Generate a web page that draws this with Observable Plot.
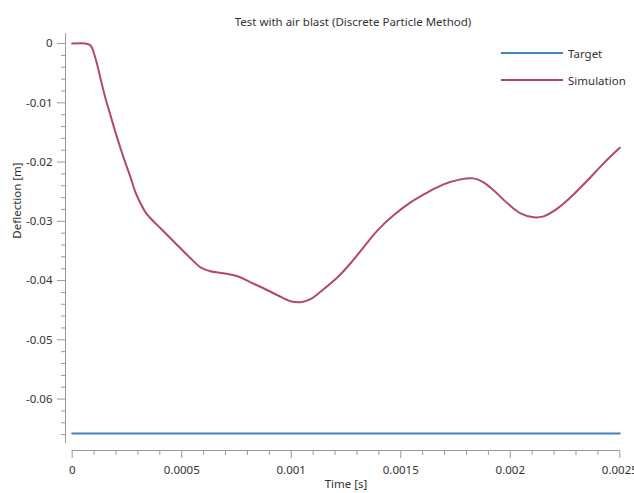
<!DOCTYPE html>
<html>
<head>
<meta charset="utf-8">
<script src="https://cdn.jsdelivr.net/npm/d3@7"></script>
<script src="https://cdn.jsdelivr.net/npm/@observablehq/plot@0.6"></script>
<style>
  html, body { margin: 0; padding: 0; background: #fff; }
  #wrap { position: relative; width: 634px; height: 493px; font-family: "Noto Sans", "Open Sans", sans-serif; color: #333; }
  #legend { position: absolute; left: 501px; top: 40px; font-size: 11.5px; }
  .item { display: flex; align-items: center; height: 26.7px; }
  .sw { width: 62px; height: 0; border-top: 2px solid; margin-right: 5px; }
</style>
</head>
<body>
<div id="wrap">
  <div id="legend"></div>
</div>
<script>
const title = "Test with air blast (Discrete Particle Method)";
const xLabel = "Time [s]";
const yLabel = "Deflection [m]";
const seriesNames = ["Target", "Simulation"];
const seriesColors = ["#4682be", "#b4476d"];

// Simulation: time [s]
const simTime = [0, 0.0000607, 0.0000836, 0.0001064, 0.0001292, 0.0001521, 0.0001749, 0.0001977, 0.0002205,
  0.0002434, 0.0002662, 0.000289, 0.0003119, 0.0003347, 0.0003575, 0.0004032, 0.0004489, 0.0004945,
  0.0005402, 0.0005858, 0.0006315, 0.0006909, 0.0007548, 0.0008142, 0.0008735, 0.0009374, 0.0009968,
  0.0010425, 0.0010881, 0.0011475, 0.0012114, 0.0012708, 0.0013484, 0.0013941, 0.0014671, 0.0015447,
  0.0016224, 0.0016954, 0.0017731, 0.0018324, 0.0018781, 0.0019237, 0.0019877, 0.002047, 0.0021064,
  0.0021521, 0.002216, 0.0022753, 0.002353, 0.002426, 0.0025];
// Simulation: deflection [m]
const simDefl = [0, 0, -0.00032, -0.00251, -0.00589, -0.00926, -0.01212, -0.01499, -0.01767,
  -0.0202, -0.02258, -0.02511, -0.02696, -0.02848, -0.02949, -0.03118, -0.03287, -0.03455,
  -0.03624, -0.03776, -0.03843, -0.03877, -0.03928, -0.04029, -0.0413, -0.04248, -0.04349,
  -0.04366, -0.04315, -0.04147, -0.03944, -0.03708, -0.03354, -0.03152, -0.02899, -0.0268,
  -0.02511, -0.02376, -0.02292, -0.02275, -0.02342, -0.02477, -0.02696, -0.02865, -0.02932,
  -0.02916, -0.02781, -0.02595, -0.02308, -0.02022, -0.0176];
// Target: constant deflection
const targetTime = [0, 0.0025];
const targetDefl = [-0.0658, -0.0658];

const xDomain = [0, 0.0025];
const yDomain = [-0.0675, 0.00165];
const xMajor = [0, 0.0005, 0.001, 0.0015, 0.002, 0.0025];
const xMinor = d3.range(0, 26).map(i => +(i * 0.0001).toFixed(4)).filter(v => !xMajor.includes(v));
const yMajor = [0, -0.01, -0.02, -0.03, -0.04, -0.05, -0.06];
const yMinor = d3.range(0, 34).map(i => +(-i * 0.002).toFixed(3)).filter(v => !yMajor.includes(v));

const sim = simTime.map((t, i) => ({t, v: simDefl[i]}));
const target = targetTime.map((t, i) => ({t, v: targetDefl[i]}));

const axisColor = "#9a9a9a";
const fmt = d => String(d);

const chart = Plot.plot({
  width: 634,
  height: 493,
  marginLeft: 71.7,
  marginRight: 14.7,
  marginTop: 33.3,
  marginBottom: 50,
  style: {fontFamily: '"Noto Sans", "Open Sans", sans-serif', fontSize: "11.5px", color: "#333", background: "#fff"},
  x: {domain: xDomain},
  y: {domain: yDomain},
  marks: [
    Plot.ruleX([0], {y1: yDomain[0], y2: yDomain[1], dx: -6.7, stroke: axisColor}),
    Plot.ruleY([yDomain[0]], {x1: xDomain[0], x2: xDomain[1], dy: 7, stroke: axisColor}),
    Plot.axisY({ticks: yMajor, tickSize: 8, tickPadding: 5, tickFormat: fmt, dx: -6.7, stroke: axisColor, fill: "#333", label: null}),
    Plot.axisY({ticks: yMinor, tickSize: 4, tickFormat: () => "", dx: -6.7, stroke: axisColor, label: null}),
    Plot.axisX({ticks: xMajor, tickSize: 8, tickPadding: 7, tickFormat: fmt, dy: 7, stroke: axisColor, fill: "#333", label: null}),
    Plot.axisX({ticks: xMinor, tickSize: 5, tickFormat: () => "", dy: 7, stroke: axisColor, label: null}),
    Plot.text([title], {frameAnchor: "top", dx: 7, dy: -16.3, text: d => d, fill: "#333"}),
    Plot.text([xLabel], {frameAnchor: "bottom", dy: 44, text: d => d, fill: "#333"}),
    Plot.text([yLabel], {frameAnchor: "left", dx: -54.7, rotate: -90, text: d => d, fill: "#333"}),
    Plot.line(target, {x: "t", y: "v", stroke: seriesColors[0], strokeWidth: 2}),
    Plot.line(sim, {x: "t", y: "v", stroke: seriesColors[1], strokeWidth: 2, curve: "catmull-rom"})
  ]
});

document.getElementById("wrap").prepend(chart);
chart.style.position = "absolute";
chart.style.left = "0";
chart.style.top = "0";
const legend = document.getElementById("legend");
seriesNames.forEach((n, i) => {
  const it = document.createElement("div");
  it.className = "item";
  const sw = document.createElement("span");
  sw.className = "sw";
  sw.style.borderColor = seriesColors[i];
  const tx = document.createElement("span");
  tx.textContent = n;
  it.append(sw, tx);
  legend.append(it);
});
</script>
</body>
</html>
